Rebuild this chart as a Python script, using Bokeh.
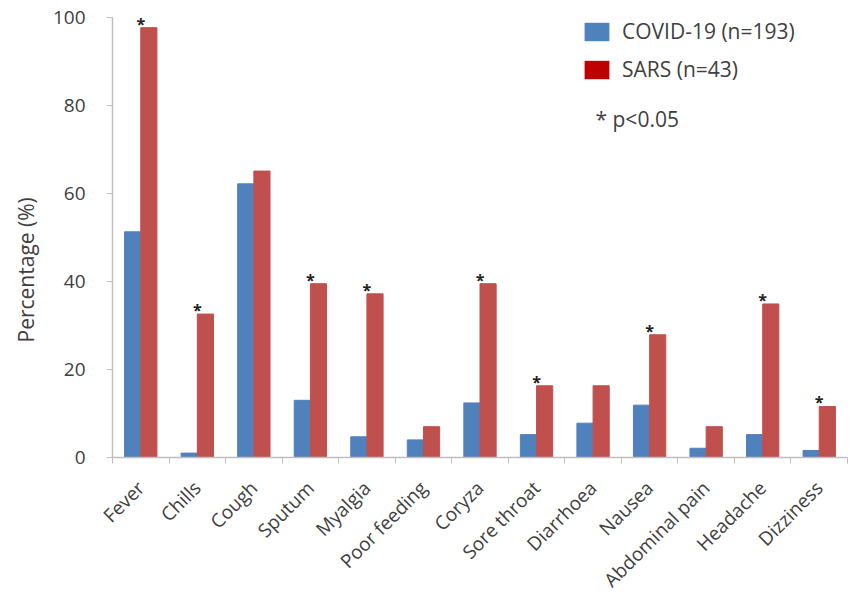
import math
from bokeh.plotting import figure
from bokeh.models import ColumnDataSource, Range1d, FixedTicker, Legend, LegendItem, Label, Title
from bokeh.core.properties import value
from bokeh.embed import file_html
from bokeh.resources import INLINE

categories = ["Fever", "Chills", "Cough", "Sputum", "Myalgia", "Poor feeding", "Coryza",
              "Sore throat", "Diarrhoea", "Nausea", "Abdominal pain", "Headache", "Dizziness"]
covid = [51.3, 1.0, 62.2, 13.0, 4.7, 4.0, 12.4, 5.2, 7.8, 11.9, 2.1, 5.2, 1.6]
sars = [97.7, 32.6, 65.1, 39.5, 37.2, 7.0, 39.5, 16.3, 16.3, 27.9, 7.0, 34.9, 11.6]
significant = [True, True, False, True, True, False, True, True, False, True, False, True, True]
y_ticks = [0, 20, 40, 60, 80, 100]
series_labels = ["COVID-19 (n=193)", "SARS (n=43)"]
note_text = "* p<0.05"
y_title = "Percentage (%)"

BLUE = "#4F81BD"
RED = "#C0504D"
RED_LEG = "#C00000"
TXT = "#404040"
AX = "#BFBFBF"
FONT = "Open Sans"

n = len(categories)
centers = [i + 0.5 for i in range(n)]
bw = 0.286

src = ColumnDataSource(dict(
    cat=categories,
    xc=[c - bw / 2 for c in centers],
    xs=[c + bw / 2 for c in centers],
    covid=covid, sars=sars,
))
star_src = ColumnDataSource(dict(
    x=[c for c, s in zip(centers, significant) if s],
    y=[v for v, s in zip(sars, significant) if s],
    t=["*" for s in significant if s],
))

p = figure(width=850, height=607, x_range=Range1d(0, n), y_range=Range1d(0, 101.6),
           output_backend="svg", toolbar_location=None,
           min_border_left=110, min_border_right=3, min_border_top=10, min_border_bottom=150)
p.outline_line_color = None
p.xgrid.grid_line_color = None
p.ygrid.grid_line_color = None
p.background_fill_color = "white"
p.border_fill_color = "white"

p.vbar(x="xc", top="covid", width=bw, bottom=0, source=src, fill_color=BLUE, line_color=BLUE)
p.vbar(x="xs", top="sars", width=bw, bottom=0, source=src, fill_color=RED, line_color=RED)

p.text(x="x", y="y", text="t", source=star_src, text_font=value(FONT), text_font_size="16px",
       text_font_style="bold", text_color="#202020", text_align="center",
       text_baseline="alphabetic", y_offset=-4)

# legend swatches (zero-width bars carry the legend colours)
rb = p.vbar(x="xc", top="covid", width=0, source=src, fill_color=BLUE, line_color=None)
rr = p.vbar(x="xs", top="sars", width=0, source=src, fill_color=RED_LEG, line_color=None)
legend = Legend(items=[LegendItem(label=series_labels[0], renderers=[rb]),
                       LegendItem(label=series_labels[1], renderers=[rr])],
                location=(469, 374), glyph_width=31, glyph_height=23, spacing=10,
                padding=0, margin=0, label_standoff=10,
                label_text_font=FONT, label_text_font_size="21px", label_text_color=TXT,
                border_line_color=None, background_fill_alpha=0)
p.add_layout(legend)

p.add_layout(Label(x=483, y=339, x_units="screen", y_units="screen", text=note_text,
                   text_font=FONT, text_font_size="21px", text_color=TXT,
                   text_baseline="middle"))

# x axis
xa = p.xaxis[0]
xa.ticker = FixedTicker(ticks=centers, minor_ticks=list(range(n + 1)))
xa.major_label_overrides = {c: name for c, name in zip(centers, categories)}
xa.major_tick_line_color = None
xa.major_tick_out = 0
xa.major_tick_in = 0
xa.minor_tick_line_color = AX
xa.minor_tick_out = 6
xa.minor_tick_in = 0
xa.axis_line_color = AX
xa.axis_line_width = 1.5
xa.major_label_orientation = math.pi / 4
xa.major_label_standoff = 21
xa.major_label_text_font = FONT
xa.major_label_text_font_size = "19px"
xa.major_label_text_color = TXT

# y axis
ya = p.yaxis[0]
ya.ticker = FixedTicker(ticks=y_ticks, minor_ticks=[])
ya.bounds = (0, 100)
ya.axis_line_color = AX
ya.axis_line_width = 1.5
ya.major_tick_line_color = AX
ya.major_tick_out = 6
ya.major_tick_in = 0
ya.minor_tick_line_color = None
ya.major_label_standoff = 21
ya.major_label_text_font = FONT
ya.major_label_text_font_size = "19px"
ya.major_label_text_color = TXT

p.add_layout(Title(text=y_title, align="left", offset=115, standoff=19,
                   text_font=FONT, text_font_size="21px", text_font_style="normal",
                   text_color=TXT), "left")

open("out.html", "w").write(file_html(p, INLINE))
